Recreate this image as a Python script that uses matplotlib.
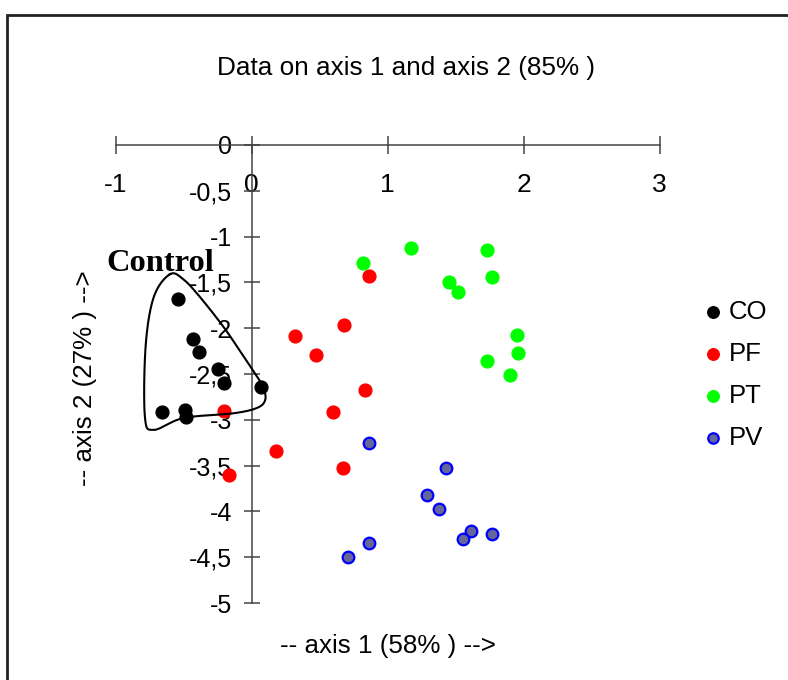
import numpy as np
import matplotlib
matplotlib.use("Agg")
import matplotlib.pyplot as plt
from matplotlib.ticker import FuncFormatter
from matplotlib.patches import Rectangle

# scores on axis 1 / axis 2
co_x = [-0.54, -0.43, -0.39, -0.25, -0.20, 0.07, -0.66, -0.49, -0.48]
co_y = [-1.68, -2.12, -2.26, -2.44, -2.60, -2.64, -2.92, -2.89, -2.97]

pf_x = [0.86, 0.68, 0.32, 0.47, 0.83, 0.60, -0.20, 0.18, 0.67, -0.17]
pf_y = [-1.43, -1.96, -2.09, -2.29, -2.68, -2.92, -2.90, -3.34, -3.53, -3.60]

pt_x = [0.82, 1.17, 1.73, 1.45, 1.52, 1.77, 1.95, 1.96, 1.73, 1.90]
pt_y = [-1.29, -1.13, -1.15, -1.50, -1.61, -1.44, -2.07, -2.27, -2.36, -2.51]

pv_x = [0.86, 1.43, 1.29, 1.38, 1.61, 1.55, 1.77, 0.86, 0.71]
pv_y = [-3.25, -3.53, -3.82, -3.97, -4.21, -4.30, -4.25, -4.34, -4.50]

x_ticks = [-1, 0, 1, 2, 3]
y_ticks = [0, -0.5, -1, -1.5, -2, -2.5, -3, -3.5, -4, -4.5, -5]

# hand drawn loop round the control group
loop_x = [-0.60, -0.50, -0.38, -0.21, -0.09, 0.04, 0.085, 0.10, 0.04, -0.14, -0.50, -0.72, -0.785, -0.78, -0.72]
loop_y = [-1.41, -1.47, -1.66, -1.98, -2.24, -2.53, -2.64, -2.78, -2.87, -2.93, -2.98, -3.11, -2.97, -2.20, -1.66]


def closed_curve(px, py, n=20):
    p = np.column_stack([px, py])
    m = len(p)
    out = []
    for i in range(m):
        p0, p1, p2, p3 = p[i - 1], p[i], p[(i + 1) % m], p[(i + 2) % m]
        t = np.linspace(0, 1, n, endpoint=False)[:, None]
        out.append(0.5 * ((2 * p1) + (-p0 + p2) * t + (2 * p0 - 5 * p1 + 4 * p2 - p3) * t ** 2
                          + (-p0 + 3 * p1 - 3 * p2 + p3) * t ** 3))
    out = np.vstack(out + [out[0][:1]])
    return out[:, 0], out[:, 1]


plt.rcParams['font.family'] = ['Liberation Sans', 'DejaVu Sans']

fig = plt.figure(figsize=(7.88, 6.8), dpi=100)
ax = fig.add_axes([0.1468, 0.1132, 0.6904, 0.6736])

ax.scatter(co_x, co_y, s=85, color='black', label='CO', zorder=3)
ax.scatter(pf_x, pf_y, s=85, color='#ff0000', label='PF', zorder=3)
ax.scatter(pt_x, pt_y, s=85, color='#00ff00', label='PT', zorder=3)
ax.scatter(pv_x, pv_y, s=70, color='#666699', edgecolors='#0000ff', linewidths=1.6, label='PV', zorder=3)

lx, ly = closed_curve(loop_x, loop_y)
ax.plot(lx, ly, color='black', lw=1.5, zorder=4)
ax.text(-1.07, -1.38, 'Control', family='Liberation Serif', fontweight='bold', fontsize=23.4,
        ha='left', va='baseline')

ax.set_xlim(-1, 3)
ax.set_ylim(-5, 0)
ax.spines['right'].set_visible(False)
ax.spines['top'].set_visible(False)
ax.spines['left'].set_position(('data', 0))
ax.spines['bottom'].set_position(('data', 0))
for s in ['left', 'bottom']:
    ax.spines[s].set_color('#444444')
    ax.spines[s].set_linewidth(1.1)

ax.set_xticks(x_ticks)
ax.set_yticks(y_ticks)
fmt = FuncFormatter(lambda v, pos: ('%g' % v).replace('.', ','))
ax.xaxis.set_major_formatter(fmt)
ax.yaxis.set_major_formatter(fmt)
ax.tick_params(axis='x', direction='inout', length=13, width=1.1, color='#444444', pad=14, labelsize=19)
ax.tick_params(axis='y', direction='inout', length=12, width=1.1, color='#444444', pad=8, labelsize=18)

fig.text(406 / 788, 1 - 68 / 680, 'Data on axis 1 and axis 2 (85% )', ha='center', va='center', fontsize=18.8)
fig.text(388 / 788, 1 - 646 / 680, '-- axis 1 (58% ) -->', ha='center', va='center', fontsize=18.7)
fig.text(85 / 788, 1 - 378 / 680, '-- axis 2 (27% ) -->', ha='center', va='center', fontsize=18.7, rotation=90)

ax.legend(loc='upper left', bbox_to_anchor=(703 / 788, 1 - 300 / 680), bbox_transform=fig.transFigure,
          frameon=False, fontsize=18.5, handlelength=0.8, handletextpad=0.2, labelspacing=0.7,
          borderpad=0, borderaxespad=0, markerscale=0.9)

fig.add_artist(Rectangle((7 / 788, -0.1), 1.2, 1.1 - 15 / 680, transform=fig.transFigure,
                         fill=False, lw=2, edgecolor='#222222'))

fig.savefig('out.png', dpi=100)
